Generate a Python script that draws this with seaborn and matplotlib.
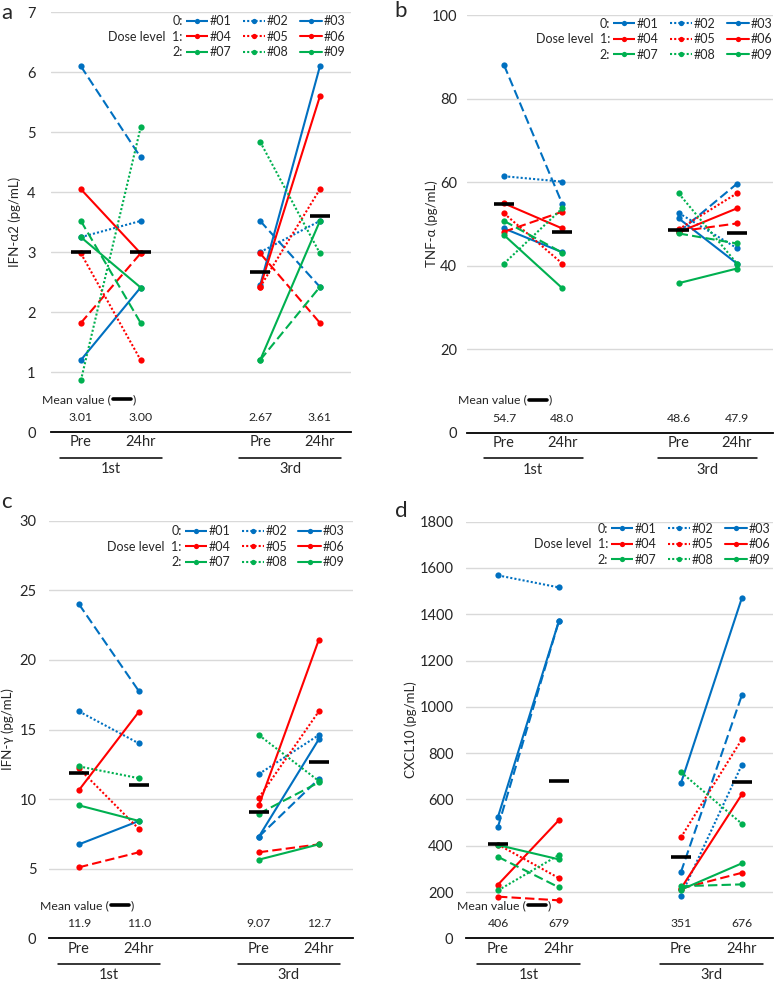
import numpy as np
import pandas as pd
import matplotlib
matplotlib.use('Agg')
import matplotlib.pyplot as plt
import matplotlib.transforms as mtransforms
from matplotlib.lines import Line2D
import seaborn as sns

# Patients, grouped by dose level (0, 1, 2)
patients = ['#01', '#02', '#03', '#04', '#05', '#06', '#07', '#08', '#09']
dose_colors = ['#0070C0', '#FF0000', '#00B050']
timepoints = ['Pre', '24hr', 'Pre', '24hr']
cycles = ['1st', '3rd']
x_pos = [0.5, 1.5, 3.5, 4.5]

# a: IFN-alpha2 (pg/mL)
ifna_pre_1st = [6.10, 3.25, 1.20, 1.82, 2.98, 4.05, 3.52, 0.86, 3.25]
ifna_24h_1st = [4.58, 3.52, 2.41, 2.98, 1.20, 2.98, 1.82, 5.08, 2.41]
ifna_pre_3rd = [3.52, 3.00, 2.45, 2.98, 2.42, 2.42, 1.20, 4.84, 1.20]
ifna_24h_3rd = [2.42, 3.52, 6.10, 1.82, 4.05, 5.60, 2.42, 2.98, 3.52]
ifna_means = ['3.01', '3.00', '2.67', '3.61']

# b: TNF-alpha (pg/mL)
tnf_pre_1st = [88.0, 61.4, 48.9, 48.1, 52.5, 54.9, 50.7, 40.5, 47.3]
tnf_24h_1st = [54.8, 60.1, 43.2, 52.9, 40.5, 48.9, 43.1, 53.7, 34.6]
tnf_pre_3rd = [48.0, 52.6, 51.3, 48.2, 48.7, 48.0, 47.7, 57.3, 35.8]
tnf_24h_3rd = [59.6, 44.2, 40.5, 50.1, 57.3, 53.7, 45.3, 40.5, 39.3]
tnf_means = ['54.7', '48.0', '48.6', '47.9']

# c: IFN-gamma (pg/mL)  (#07 not shown for the 1st dose)
ifng_pre_1st = [24.0, 16.3, 6.75, 5.1, 12.2, 10.65, np.nan, 12.35, 9.55]
ifng_24h_1st = [17.75, 14.0, 8.43, 6.18, 7.85, 16.28, np.nan, 11.5, 8.43]
ifng_pre_3rd = [7.3, 11.8, 7.3, 6.18, 10.1, 9.55, 8.95, 14.6, 5.65]
ifng_24h_3rd = [11.45, 14.6, 14.3, 6.75, 16.3, 21.45, 11.2, 11.3, 6.75]
ifng_means = ['11.9', '11.0', '9.07', '12.7']

# d: CXCL10 (pg/mL)
cxcl_pre_1st = [482, 1568, 525, 180, 405, 232, 352, 207, 403]
cxcl_24h_1st = [1372, 1516, 1372, 164, 260, 511, 220, 360, 341]
cxcl_pre_3rd = [286, 184, 670, 215, 436, 215, 225, 718, 210]
cxcl_24h_3rd = [1051, 750, 1471, 283, 860, 622, 233, 495, 324]
cxcl_means = ['406', '679', '351', '676']

W, H = 777, 981
panels = [
    dict(letter='a', letter_xy=(7, 13), ylabel='IFN-α2 (pg/mL)', ylab_px=36,
         series=[ifna_pre_1st, ifna_24h_1st, ifna_pre_3rd, ifna_24h_3rd], means=ifna_means,
         box=(51, 12.3, 351, 432), ymax=7, step=1, xlim=(0, 5.02), ypad=11, leg=(6, 3)),
    dict(letter='b', letter_xy=(401, 11), ylabel='TNF-α (pg/mL)', ylab_px=35,
         series=[tnf_pre_1st, tnf_24h_1st, tnf_pre_3rd, tnf_24h_3rd], means=tnf_means,
         box=(467, 15, 773, 432.7), ymax=100, step=20, xlim=(-0.136, 5.12), ypad=7, leg=(1, 2.5)),
    dict(letter='c', letter_xy=(6, 502), ylabel='IFN-γ (pg/mL)', ylab_px=41,
         series=[ifng_pre_1st, ifng_24h_1st, ifng_pre_3rd, ifng_24h_3rd], means=ifng_means,
         box=(49, 520.7, 353, 938.3), ymax=30, step=5, xlim=(0, 5.07), ypad=9, leg=(9, 4.5)),
    dict(letter='d', letter_xy=(401, 511), ylabel='CXCL10 (pg/mL)', ylab_px=55,
         series=[cxcl_pre_1st, cxcl_24h_1st, cxcl_pre_3rd, cxcl_24h_3rd], means=cxcl_means,
         box=(466, 521.7, 773, 938.3), ymax=1800, step=200, xlim=(-0.025, 5.01), ypad=9, leg=(3, 1)),
]

palette = {p: dose_colors[i // 3] for i, p in enumerate(patients)}
dash_styles = [(4.5, 2), (1, 1), '']
dash_map = {p: dash_styles[i % 3] for i, p in enumerate(patients)}
marker_map = {p: 'o' for p in patients}

sns.set_style('white')
plt.rcParams['font.family'] = ['Lato', 'DejaVu Sans']

fig = plt.figure(figsize=(W / 100, H / 100), dpi=100)


def long_table(series):
    rows = []
    for k, vals in enumerate(series):
        for pid, v in zip(patients, vals):
            rows.append(dict(patient=pid, cycle=cycles[k // 2], x=x_pos[k], value=v))
    df = pd.DataFrame(rows).dropna()
    df['seg'] = df['patient'] + '_' + df['cycle']
    return df


legends = []
mean_titles = []
for p in panels:
    x0, y0, x1, y1 = p['box']
    w_px, h_px = x1 - x0, y1 - y0
    ax = fig.add_axes([x0 / W, (H - y1) / H, w_px / W, h_px / H])

    df = long_table(p['series'])
    sns.lineplot(data=df, x='x', y='value', hue='patient', style='patient', units='seg',
                 estimator=None, sort=False, palette=palette, dashes=dash_map,
                 markers=marker_map, markersize=4.5, markeredgewidth=0, linewidth=1.5,
                 legend=False, ax=ax)

    # mean bars
    means = [float(m) for m in p['means']]
    hw = 0.17 * 60 / (w_px / (p['xlim'][1] - p['xlim'][0]))
    ax.hlines(means, [x - hw for x in x_pos], [x + hw for x in x_pos],
              color='black', lw=2.6, zorder=6)

    ax.set_xlim(*p['xlim'])
    ax.set_ylim(0, p['ymax'])
    ax.set_yticks(np.arange(0, p['ymax'] + p['step'] / 2, p['step']))
    ax.yaxis.grid(True, color='#D9D9D9', lw=1)
    ax.set_axisbelow(True)
    for s in ['left', 'right', 'top']:
        ax.spines[s].set_visible(False)
    ax.spines['bottom'].set_color('black')
    ax.spines['bottom'].set_linewidth(1.3)
    ax.tick_params(axis='y', length=0, pad=p['ypad'], labelsize=10.5)
    ax.set_xticks(x_pos, timepoints)
    ax.tick_params(axis='x', length=0, pad=2.5, labelsize=10.5)
    ax.set_xlabel('')
    ax.set_ylabel(p['ylabel'], fontsize=9.5, va='center')
    ax.yaxis.set_label_coords(-p['ylab_px'] / w_px, 0.5)

    trans = mtransforms.blended_transform_factory(ax.transData, ax.transAxes)
    for xp, lab in zip(x_pos, p['means']):
        ax.annotate(lab, xy=(xp, 0), xycoords=trans, xytext=(0, 10.5),
                    textcoords='offset points', ha='center', va='center', fontsize=8.8)
    mt = ax.annotate('Mean value (', xy=(0, 0), xycoords='axes fraction', xytext=(-6.5, 23.5),
                     textcoords='offset points', ha='left', va='center', fontsize=8.8)
    mean_titles.append(mt)

    # cycle brackets under the tick labels
    line_tr = trans + mtransforms.ScaledTranslation(0, -0.255, fig.dpi_scale_trans)
    for c, name in zip([1.0, 4.0], cycles):
        ax.plot([c - 0.85, c + 0.85], [0, 0], transform=line_tr, color='black',
                lw=1.1, clip_on=False)
        ax.annotate(name, xy=(c, 0), xycoords=trans, xytext=(0, -26.6),
                    textcoords='offset points', ha='center', va='center', fontsize=10.5)

    fig.text(p['letter_xy'][0] / W, 1 - p['letter_xy'][1] / H, p['letter'],
             fontsize=16, ha='center', va='center')

    # legend: rows = dose level, columns = patient within level
    order = [0, 3, 6, 1, 4, 7, 2, 5, 8]
    handles = [Line2D([], [], color=palette[patients[i]], dashes=dash_map[patients[i]],
                      marker='o', markersize=3.8, markeredgewidth=0, lw=1.5) for i in order]
    labels = [patients[i] for i in order]
    r, t = p['leg']
    leg = ax.legend(handles, labels, ncol=3, loc='upper right',
                    bbox_to_anchor=(1 - r / w_px, 1 - t / h_px), frameon=False,
                    fontsize=9, handlelength=1.8, handletextpad=0.1,
                    columnspacing=0.9, labelspacing=0.28, borderpad=0, borderaxespad=0)
    legends.append(leg)

fig.canvas.draw()
renderer = fig.canvas.get_renderer()
FW, FH = fig.bbox.width, fig.bbox.height
for leg in legends:
    box = leg.get_window_extent(renderer)
    texts = leg.get_texts()
    for i, lab in enumerate(['0:', 'Dose level  1:', '2:']):
        tb = texts[i].get_window_extent(renderer)
        fig.text((box.x0 - 3) / FW, (tb.y0 + tb.y1) / 2 / FH,
                 lab, fontsize=9, ha='right', va='center')

# the black bar sample inside "Mean value ( )"
for mt in mean_titles:
    tb = mt.get_window_extent(renderer)
    yc = (tb.y0 + tb.y1) / 2 + 0.5
    fig.add_artist(Line2D([(tb.x1 + 2) / FW, (tb.x1 + 20) / FW], [yc / FH, yc / FH],
                          color='black', lw=2.6))
    fig.text((tb.x1 + 22) / FW, (tb.y0 + tb.y1) / 2 / FH, ')', fontsize=8.8,
             ha='left', va='center')

fig.savefig('out.png', dpi=100)
